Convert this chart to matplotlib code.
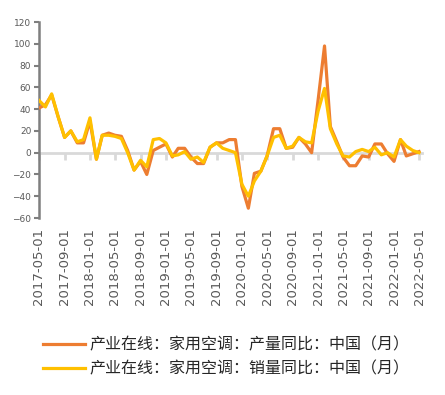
import matplotlib
matplotlib.use("Agg")
import matplotlib.pyplot as plt
import pandas as pd

plt.rcParams["font.family"] = ["DejaVu Sans"]

start_month = "2017-05-01"
n_months = 61

production_yoy = [
    41, 44, 53, 33, 14, 20, 9, 9, 29, -6,
    16, 18, 16, 15, 2, -16, -8, -20, 2, 5,
    8, -4, 4, 4, -4, -10, -10, 5, 9, 9,
    12, 12, -31, -51, -19, -17, -3, 22, 22, 4,
    5, 14, 8, 0, 48, 98, 24, 10, -4, -12,
    -12, -3, -4, 8, 8, -1, -8, 12, -3, -1,
    1,
]
sales_yoy = [
    48, 42, 54, 33, 14, 20, 10, 12, 32, -6,
    16, 16, 15, 13, 0, -16, -7, -13, 12, 13,
    9, -3, -2, 1, -6, -4, -9, 5, 9, 4,
    2, 0, -29, -40, -26, -17, -3, 14, 16, 4,
    6, 14, 10, 9, 38, 59, 22, 8, -3, -4,
    1, 3, 1, 5, -2, 0, -4, 12, 6, 2,
    0,
]
tick_labels = [
    "2017-05-01", "2017-09-01", "2018-01-01", "2018-05-01", "2018-09-01",
    "2019-01-01", "2019-05-01", "2019-09-01", "2020-01-01", "2020-05-01",
    "2020-09-01", "2021-01-01", "2021-05-01", "2021-09-01", "2022-01-01",
    "2022-05-01",
]
series_names = [
    "产业在线：家用空调：产量同比：中国（月）",
    "产业在线：家用空调：销量同比：中国（月）",
]
y_ticks = list(range(-60, 121, 20))

dates = pd.date_range(start_month, periods=n_months, freq="MS")
tick_dates = pd.to_datetime(tick_labels)

fig = plt.figure(figsize=(4.45, 3.95), dpi=100)
ax = fig.add_axes([0.0876, 0.4481, 0.861, 0.4962])

l1, = ax.plot(dates, production_yoy, color="#ED7D31", lw=2.3, zorder=3)
l2, = ax.plot(dates, sales_yoy, color="#FFC000", lw=2.3, zorder=4)

ax.set_xlim(dates[0], pd.Timestamp("2022-05-16"))
ax.set_ylim(-60, 120)
ax.set_yticks(y_ticks)

for side in ("top", "right"):
    ax.spines[side].set_visible(False)
ax.spines["left"].set_color("#7f7f7f")
ax.spines["left"].set_linewidth(1.8)
ax.spines["bottom"].set_position(("data", 0))
ax.spines["bottom"].set_color("#d9d9d9")
ax.spines["bottom"].set_linewidth(2)
ax.spines["bottom"].set_zorder(1)

ax.set_xticks(tick_dates)
ax.tick_params(axis="x", direction="out", length=5, width=2, color="#d9d9d9",
               labelbottom=False)
ax.tick_params(axis="y", length=3.5, width=1.5, color="#7f7f7f",
               labelsize=6.5, labelcolor="#595959", pad=2)

sec = ax.secondary_xaxis("bottom")
sec.set_xticks(tick_dates, tick_labels)
sec.spines["bottom"].set_visible(False)
sec.tick_params(axis="x", length=0, pad=7, labelsize=9.5, labelcolor="#595959",
                labelrotation=90)

fig.legend([l1, l2], series_names, loc="upper left",
           bbox_to_anchor=(0.0966, 0.149), frameon=False,
           prop={"family": ["Noto Sans CJK SC", "DejaVu Sans"], "size": 11.5},
           handlelength=2.6, handletextpad=0.3, labelspacing=0.45,
           borderaxespad=0, borderpad=0, labelcolor="#262626")

fig.savefig("out.png", dpi=100)
